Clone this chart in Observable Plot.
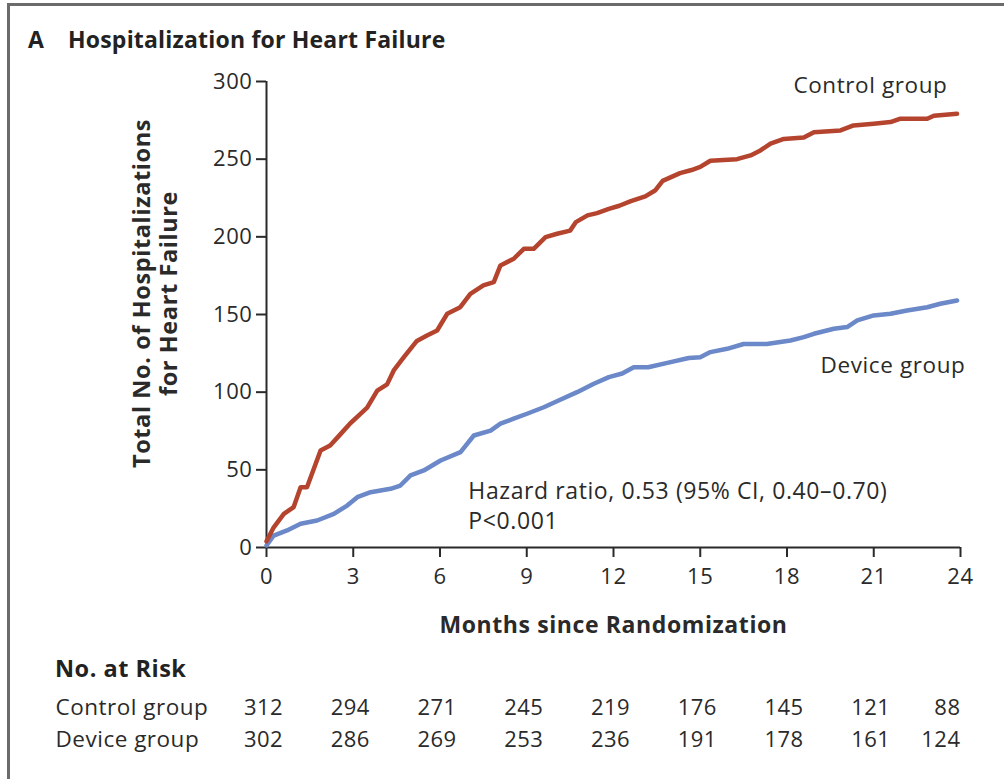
<!DOCTYPE html>
<html>
<head>
<meta charset="utf-8">
<script src="https://cdn.jsdelivr.net/npm/d3@7"></script>
<script src="https://cdn.jsdelivr.net/npm/@observablehq/plot@0.6"></script>
<style>
  html, body { margin: 0; padding: 0; background: #fff; }
  #wrap { position: relative; width: 1004px; height: 779px; overflow: hidden; font-family: "Open Sans", Lato, sans-serif; color: #222; }
  #bt { position: absolute; left: 7px; top: 3px; width: 997px; height: 3px; background: #6b6b6b; }
  #bl { position: absolute; left: 7px; top: 3px; width: 3px; height: 776px; background: #6b6b6b; }
  #title { position: absolute; left: 28px; top: 23px; font-weight: 700; font-size: 23px; letter-spacing: 0.2px; white-space: pre; }
  #title .sub { position: absolute; left: 40px; top: 0; }
  #main { position: absolute; left: 0; top: 60px; }
  #riskhead { position: absolute; left: 55px; top: 652px; font-weight: 700; font-size: 23.5px; letter-spacing: 0.5px; }
  #risk { position: absolute; left: 0; top: 690px; }
</style>
</head>
<body>
<div id="wrap">
  <div id="bt"></div><div id="bl"></div>
  <div id="title"><span>A</span><span class="sub">Hospitalization for Heart Failure</span></div>
  <div id="main"></div>
  <div id="riskhead">No. at Risk</div>
  <div id="risk"></div>
</div>
<script>
// ---- data ----
const xTicks = [0, 3, 6, 9, 12, 15, 18, 21, 24];
const yTicks = [0, 50, 100, 150, 200, 250, 300];

const controlMonths = [0, 0.25, 0.6, 0.94, 1.18, 1.4, 1.87, 2.2, 2.56, 2.9, 3.25, 3.48, 3.83, 4.17, 4.4, 4.75, 5.2, 5.55, 5.9, 6.25, 6.7, 7.05, 7.5, 7.86, 8.09, 8.55, 8.9, 9.24, 9.65, 10.05, 10.5, 10.7, 11.1, 11.43, 11.84, 12.2, 12.6, 13.1, 13.45, 13.7, 14.3, 14.7, 15.0, 15.35, 16.27, 16.74, 17.08, 17.43, 17.89, 18.58, 18.93, 19.85, 20.3, 21.0, 21.58, 21.9, 22.85, 23.08, 23.88];
const controlValues = [4, 13, 21.7, 26, 38.8, 38.8, 62.5, 65.7, 73, 80, 86, 90, 101, 105, 114, 122.5, 133, 136.5, 139.7, 150.5, 154.7, 163.3, 168.7, 170.8, 181.6, 185.9, 192.3, 192.3, 199.8, 202, 204, 209.5, 213.8, 215.3, 218, 220, 223, 226, 230, 236, 241, 243, 245, 249, 250, 252.4, 255.6, 260, 263, 264, 267.4, 268.5, 271.7, 272.8, 273.9, 276, 276, 278, 279.2];

const deviceMonths = [0, 0.25, 0.71, 1.18, 1.75, 2.33, 2.79, 3.14, 3.6, 4.29, 4.63, 4.98, 5.44, 6.02, 6.71, 7.17, 7.75, 8.09, 8.55, 9.01, 9.59, 10.1, 10.74, 11.32, 11.84, 12.3, 12.7, 13.2, 13.9, 14.6, 15.0, 15.35, 15.93, 16.5, 17.3, 18.12, 18.58, 18.93, 19.62, 20.08, 20.43, 21.0, 21.58, 22.15, 22.85, 23.3, 23.88];
const deviceValues = [1.3, 7.7, 11, 15.3, 17.4, 21.7, 27, 32.4, 35.6, 37.8, 39.9, 46.4, 49.6, 56, 61.4, 72.1, 75.3, 79.7, 82.9, 86.1, 90.3, 94.6, 100, 105.4, 109.7, 112, 116, 116, 119, 122, 122.5, 125.8, 127.9, 131, 131, 133.3, 135.4, 137.6, 140.8, 141.9, 146.2, 149.4, 150.5, 152.6, 154.7, 156.9, 159];

const groups = ["Control group", "Device group"];
const riskMonths = [0, 3, 6, 9, 12, 15, 18, 21, 24];
const controlRisk = [312, 294, 271, 245, 219, 176, 145, 121, 88];
const deviceRisk = [302, 286, 269, 253, 236, 191, 178, 161, 124];

const controlColor = "#b5442f";
const deviceColor = "#6b88c8";
const ink = "#2a2a2a";

// ---- tables built from arrays ----
const control = controlMonths.map((m, i) => ({month: m, value: controlValues[i]}));
const device = deviceMonths.map((m, i) => ({month: m, value: deviceValues[i]}));
const riskRows = [];
riskMonths.forEach((m, i) => {
  riskRows.push({group: groups[0], month: m, n: controlRisk[i]});
  riskRows.push({group: groups[1], month: m, n: deviceRisk[i]});
});

const fontFamily = "'Open Sans', Lato, sans-serif";

const main = Plot.plot({
  width: 1004,
  height: 580,
  marginLeft: 266,
  marginRight: 44,
  marginTop: 21,
  marginBottom: 93,
  style: {fontFamily, fontSize: "22px", letterSpacing: "0.6px", color: ink, background: "transparent", overflow: "visible"},
  x: {domain: [0, 24], ticks: xTicks},
  y: {domain: [0, 300], ticks: yTicks},
  marks: [
    Plot.axisX({ticks: xTicks, tickSize: 10, tickPadding: 11, fontSize: 22, label: null, stroke: ink, strokeWidth: 2, fill: ink}),
    Plot.axisY({ticks: yTicks, tickSize: 10, tickPadding: 4, fontSize: 22, label: null, stroke: ink, strokeWidth: 2, fill: ink}),
    Plot.ruleY([0], {stroke: ink, strokeWidth: 2}),
    Plot.ruleX([0], {stroke: ink, strokeWidth: 2}),
    Plot.line(device, {x: "month", y: "value", stroke: deviceColor, strokeWidth: 4.5}),
    Plot.line(control, {x: "month", y: "value", stroke: controlColor, strokeWidth: 4.5}),
    Plot.text(["Control group"], {x: 23.55, y: 297, text: d => d, textAnchor: "end", fontSize: 22.5, fill: ink}),
    Plot.text(["Device group"], {x: 24.17, y: 117, text: d => d, textAnchor: "end", fontSize: 22.5, fill: ink}),
    Plot.text(["Hazard ratio, 0.53 (95% CI, 0.40\u20130.70)\nP<0.001"], {x: 6.98, y: 27.5, text: d => d, textAnchor: "start", lineAnchor: "middle", lineHeight: 1.3, fontSize: 23, fill: ink}),
    Plot.text(["Months since Randomization"], {frameAnchor: "bottom", dy: 85, text: d => d, fontSize: 23, fontWeight: 700, fill: ink}),
    Plot.text(["Total No. of Hospitalizations\nfor Heart Failure"], {frameAnchor: "left", rotate: -90, dx: -112, dy: -21, text: d => d, textAnchor: "middle", fontSize: 23.5, fontWeight: 700, lineHeight: 1.15, lineAnchor: "middle", fill: ink})
  ]
});
document.getElementById("main").appendChild(main);

const risk = Plot.plot({
  width: 1004,
  height: 70,
  marginLeft: 266,
  marginRight: 44,
  marginTop: 17,
  marginBottom: 21,
  style: {fontFamily, fontSize: "22px", letterSpacing: "0.5px", color: ink, background: "transparent", overflow: "visible"},
  x: {domain: [0, 24], axis: null},
  y: {domain: groups, type: "point", padding: 0, axis: null},
  marks: [
    Plot.text(groups, {y: d => d, text: d => d, frameAnchor: "left", textAnchor: "start", dx: -211, fontSize: 22.5, fill: ink}),
    Plot.text(riskRows.filter(d => d.month < 24), {x: "month", y: "group", text: "n", textAnchor: "middle", dx: -3, fontSize: 22, fill: ink}),
    Plot.text(riskRows.filter(d => d.month === 24), {x: "month", y: "group", text: "n", textAnchor: "end", fontSize: 22, fill: ink})
  ]
});
document.getElementById("risk").appendChild(risk);
</script>
</body>
</html>
